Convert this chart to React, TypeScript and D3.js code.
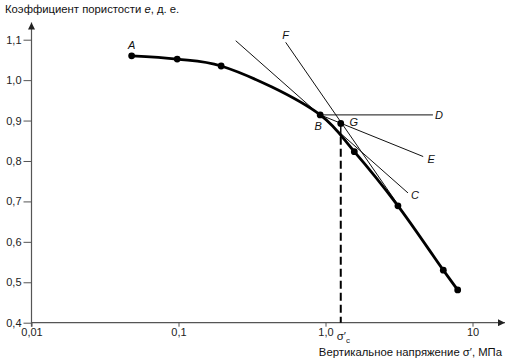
import React, { useEffect, useRef } from 'react';
import * as d3 from 'd3';

// compression curve e - log(sigma')
const stress = [0.048, 0.098, 0.195, 0.92, 1.57, 3.11, 6.33, 7.93];
const voidRatio = [1.06, 1.052, 1.035, 0.914, 0.823, 0.689, 0.53, 0.481];

const xTicks = [0.01, 0.1, 1, 10];
const xTickLabels = ['0,01', '0,1', '1,0', '10'];
const yTicks = [0.4, 0.5, 0.6, 0.7, 0.8, 0.9, 1.0, 1.1];

// Casagrande construction (stress, e)
const pointB = [0.92, 0.914];
const pointG = [1.27, 0.893];
const curveUnderG = 0.86;
const tangentLine = [[0.245, 1.0975], [3.64, 0.721]];
const horizontalEnd = [5.38, 0.914];
const bisectorEnd = [4.62, 0.811];
const virginLine = [[0.536, 1.0935], [6.33, 0.53]];

const FONT = '"Liberation Sans", Arial, sans-serif';

export default function App() {
  const ref = useRef<SVGSVGElement>(null);

  useEffect(() => {
    const svg = d3.select(ref.current);
    svg.selectAll('*').remove();

    const x = d3.scaleLog().domain([0.01, 10]).range([31.5, 472.5]);
    const y = d3.scaleLinear().domain([0.4, 1.1]).range([322.7, 39.7]);

    const defs = svg.append('defs');
    defs
      .append('marker')
      .attr('id', 'arrow')
      .attr('viewBox', '0 0 10 10')
      .attr('refX', 10)
      .attr('refY', 5)
      .attr('markerWidth', 9)
      .attr('markerHeight', 7)
      .attr('markerUnits', 'userSpaceOnUse')
      .attr('orient', 'auto')
      .append('path')
      .attr('d', 'M0,0L10,5L0,10z')
      .attr('fill', '#222');

    const axisColor = '#555';

    // x axis
    const xAxis = svg
      .append('g')
      .attr('transform', `translate(0,${y(0.4)})`)
      .call(
        d3
          .axisBottom(x)
          .tickValues(xTicks)
          .tickFormat((d, i) => xTickLabels[i])
          .tickSize(4)
          .tickSizeOuter(0)
          .tickPadding(2)
      );
    xAxis.select('.domain').remove();
    xAxis.selectAll('line').attr('stroke', axisColor);
    xAxis
      .selectAll('text')
      .attr('font-family', FONT)
      .attr('font-size', 11)
      .attr('fill', '#222');

    svg
      .append('line')
      .attr('x1', x(0.01))
      .attr('x2', 505)
      .attr('y1', y(0.4))
      .attr('y2', y(0.4))
      .attr('stroke', axisColor)
      .attr('stroke-width', 1.2)
      .attr('marker-end', 'url(#arrow)');

    // y axis
    const yAxis = svg
      .append('g')
      .attr('transform', `translate(${x(0.01)},0)`)
      .call(
        d3
          .axisLeft(y)
          .tickValues(yTicks)
          .tickFormat(d => (+d).toFixed(1).replace('.', ','))
          .tickSize(8)
          .tickSizeOuter(0)
          .tickPadding(2)
      );
    yAxis.select('.domain').remove();
    yAxis.selectAll('line').attr('stroke', axisColor);
    yAxis
      .selectAll('text')
      .attr('font-family', FONT)
      .attr('font-size', 11)
      .attr('fill', '#222');

    svg
      .append('line')
      .attr('x1', x(0.01))
      .attr('x2', x(0.01))
      .attr('y1', y(0.4) + 4)
      .attr('y2', 22.5)
      .attr('stroke', axisColor)
      .attr('stroke-width', 1.2)
      .attr('marker-end', 'url(#arrow)');

    // construction lines
    const thin = (a: number[], b: number[]) =>
      svg
        .append('line')
        .attr('x1', x(a[0]))
        .attr('y1', y(a[1]))
        .attr('x2', x(b[0]))
        .attr('y2', y(b[1]))
        .attr('stroke', '#111')
        .attr('stroke-width', 1);

    thin(tangentLine[0], tangentLine[1]);
    thin(pointB, horizontalEnd);
    thin(pointB, bisectorEnd);
    thin(virginLine[0], virginLine[1]);
    thin(pointG, [pointG[0], curveUnderG]).attr('stroke-width', 1.5);

    // preconsolidation stress
    svg
      .append('line')
      .attr('x1', x(pointG[0]))
      .attr('x2', x(pointG[0]))
      .attr('y1', y(curveUnderG))
      .attr('y2', y(0.4))
      .attr('stroke', '#000')
      .attr('stroke-width', 2)
      .attr('stroke-dasharray', '8,4');

    // compression curve
    const pts = stress.map((s, i) => [s, voidRatio[i]] as [number, number]);
    const line = d3
      .line<[number, number]>()
      .x(d => x(d[0]))
      .y(d => y(d[1]))
      .curve(d3.curveCatmullRom.alpha(0.5));

    svg
      .append('path')
      .attr('d', line(pts))
      .attr('fill', 'none')
      .attr('stroke', '#000')
      .attr('stroke-width', 2.8);

    svg
      .selectAll('.dot')
      .data([...pts, pointG])
      .enter()
      .append('circle')
      .attr('cx', d => x(d[0]))
      .attr('cy', d => y(d[1]))
      .attr('r', 3.4)
      .attr('fill', '#000');

    // letters
    const letter = (t: string, px: number, py: number) =>
      svg
        .append('text')
        .attr('x', px)
        .attr('y', py)
        .attr('text-anchor', 'middle')
        .attr('dominant-baseline', 'central')
        .attr('font-family', FONT)
        .attr('font-size', 11)
        .attr('font-style', 'italic')
        .attr('fill', '#111')
        .text(t);

    letter('A', x(stress[0]), y(voidRatio[0]) - 11);
    letter('B', x(pointB[0]) - 2, y(pointB[1]) + 11);
    letter('G', x(pointG[0]) + 13, y(pointG[1]) - 1);
    letter('D', x(horizontalEnd[0]) + 6, y(horizontalEnd[1]));
    letter('E', x(bisectorEnd[0]) + 8, y(bisectorEnd[1]) + 2);
    letter('C', x(tangentLine[1][0]) + 7, y(tangentLine[1][1]) + 2);
    letter('F', x(virginLine[0][0]), y(virginLine[0][1]) - 7);

    // sigma'c tick label
    const sc = svg
      .append('text')
      .attr('x', x(pointG[0]) - 4)
      .attr('y', 340)
      .attr('font-family', FONT)
      .attr('font-size', 11.5)
      .attr('fill', '#222');
    sc.append('tspan').text('σ′');
    sc.append('tspan').attr('font-size', 8).attr('dy', 3).text('c');

    // titles
    const title = svg
      .append('text')
      .attr('x', 5)
      .attr('y', 13)
      .attr('font-family', FONT)
      .attr('font-size', 11.3)
      .attr('fill', '#111');
    title.append('tspan').text('Коэффициент пористости ');
    title.append('tspan').attr('font-style', 'italic').text('e');
    title.append('tspan').text(', д. е.');

    svg
      .append('text')
      .attr('x', 502)
      .attr('y', 356)
      .attr('text-anchor', 'end')
      .attr('font-family', FONT)
      .attr('font-size', 11.3)
      .attr('fill', '#111')
      .text('Вертикальное напряжение σ′, МПа');
  }, []);

  return (
    <svg
      ref={ref}
      width={512}
      height={361}
      style={{ position: 'absolute', left: 0, top: 0, background: '#fff' }}
    />
  );
}
